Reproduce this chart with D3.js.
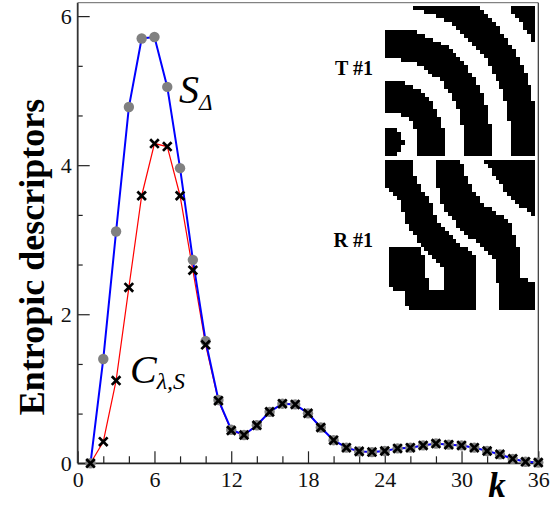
<!DOCTYPE html>
<html>
<head>
<meta charset="utf-8">
<script src="https://cdn.jsdelivr.net/npm/d3@7/dist/d3.min.js"></script>
<style>
  body { margin: 0; background: #fff; }
  svg { display: block; }
  text { font-family: "Liberation Serif", "Times New Roman", serif; }
</style>
</head>
<body>
<div id="chart"></div>
<script>
// k values and the two entropic descriptors
const kValues = [1, 2, 3, 4, 5, 6, 7, 8, 9, 10, 11, 12, 13, 14, 15, 16, 17, 18,
  19, 20, 21, 22, 23, 24, 25, 26, 27, 28, 29, 30, 31, 32, 33, 34, 35, 36];
const sDelta = [0, 1.40, 3.11, 4.78, 5.70, 5.72, 5.05, 3.96, 2.73, 1.64, 0.85, 0.45,
  0.38, 0.51, 0.69, 0.80, 0.79, 0.67, 0.48, 0.31, 0.21, 0.16, 0.15, 0.165,
  0.20, 0.21, 0.24, 0.265, 0.25, 0.24, 0.21, 0.165, 0.12, 0.06, 0.02, 0.01];
const cLambda = [0, 0.29, 1.11, 2.36, 3.59, 4.29, 4.25, 3.59, 2.59, 1.59, 0.84, 0.44,
  0.38, 0.51, 0.69, 0.80, 0.79, 0.67, 0.48, 0.31, 0.21, 0.16, 0.15, 0.165,
  0.20, 0.21, 0.24, 0.265, 0.25, 0.24, 0.21, 0.165, 0.12, 0.06, 0.02, 0.01];

const xMajor = [0, 6, 12, 18, 24, 30, 36];
const xMinor = [2, 4, 8, 10, 14, 16, 20, 22, 26, 28, 32, 34];
const yMajor = [0, 2, 4, 6];
const yMinor = [0.667, 1.333, 2.667, 3.333, 4.667, 5.333];

// inset patterns (image units 0..150)
// T #1: elliptic rings around a point near the lower-left corner
const tCenter = [4, 136];
const tStretch = 1.12;
const tBands = [[0, 14], [28, 55], [75, 102], [122, 149], [170, 197], [218, 245]];
// R #1: black blobs as polygons
const rShapes = [
  [[0, 0], [26, 0], [30, 18], [44, 40], [52, 62], [70, 80], [92, 98], [92, 150], [62, 150],
   [60, 112], [42, 92], [22, 66], [14, 40], [0, 28]],
  [[4, 88], [36, 88], [44, 130], [62, 130], [62, 150], [22, 150], [20, 132], [4, 126]],
  [[52, 0], [76, 0], [82, 20], [96, 42], [124, 62], [134, 90], [136, 118], [150, 124],
   [150, 150], [116, 150], [110, 102], [98, 88], [78, 72], [58, 46], [52, 24]],
  [[98, 0], [150, 0], [150, 58], [128, 38], [110, 18]]
];
const gridN = 38;

const width = 560, height = 505;
const svg = d3.select("#chart").append("svg")
  .attr("width", width)
  .attr("height", height);

const x = d3.scaleLinear().domain([0, 36]).range([77.7, 538.3]);
const y = d3.scaleLinear().domain([0, 6.18]).range([463.3, 2.7]);

// axes: ticks point inward
const gx = svg.append("g").attr("transform", `translate(0,${y(0)})`);
gx.call(d3.axisBottom(x).tickValues(xMajor).tickSize(-12).tickPadding(8).tickFormat(d3.format("d")));
gx.append("g").call(d3.axisBottom(x).tickValues(xMinor).tickSize(-7).tickFormat(""));

const gy = svg.append("g").attr("transform", `translate(${x(0)},0)`);
gy.call(d3.axisLeft(y).tickValues(yMajor).tickSize(-12).tickPadding(6).tickFormat(d3.format("d")));
gy.append("g").call(d3.axisLeft(y).tickValues(yMinor).tickSize(-5).tickFormat(""));

svg.selectAll(".domain").remove();
gx.attr("font-family", null).attr("font-size", null);
gy.attr("font-family", null).attr("font-size", null);
svg.selectAll(".tick line").attr("stroke", "#222").attr("stroke-width", 1.2);
svg.selectAll(".tick text")
  .attr("fill", "#111")
  .attr("font-family", "Liberation Serif")
  .attr("font-size", 22);

// frame
svg.append("line").attr("x1", x(0)).attr("x2", x(36)).attr("y1", y(0)).attr("y2", y(0))
  .attr("stroke", "#222").attr("stroke-width", 1.8);
svg.append("line").attr("x1", x(0)).attr("x2", x(0)).attr("y1", y(0)).attr("y2", y(6.18))
  .attr("stroke", "#333").attr("stroke-width", 1.8);
svg.append("line").attr("x1", x(0)).attr("x2", x(36)).attr("y1", y(6.18)).attr("y2", y(6.18))
  .attr("stroke", "#666").attr("stroke-width", 1);
svg.append("line").attr("x1", x(36)).attr("x2", x(36)).attr("y1", y(0)).attr("y2", y(6.18))
  .attr("stroke", "#333").attr("stroke-width", 1.2);

// inset images
function drawGrid(cells, x0, y0, size) {
  const c = size / gridN;
  svg.append("g").attr("shape-rendering", "crispEdges")
    .selectAll("rect").data(cells).enter().append("rect")
    .attr("x", d => x0 + d[0] * c)
    .attr("y", d => y0 + d[1] * c)
    .attr("width", c + 0.4)
    .attr("height", c + 0.4)
    .attr("fill", "#000");
}

const tCells = [];
for (let j = 0; j < gridN; j++) {
  for (let i = 0; i < gridN; i++) {
    const u = (i + 0.5) * 150 / gridN, v = (j + 0.5) * 150 / gridN;
    const r = Math.hypot(u - tCenter[0], (v - tCenter[1]) / tStretch);
    if (tBands.some(b => r >= b[0] && r < b[1])) tCells.push([i, j]);
  }
}

const cnv = document.createElement("canvas");
cnv.width = gridN; cnv.height = gridN;
const ctx = cnv.getContext("2d");
ctx.fillStyle = "#fff"; ctx.fillRect(0, 0, gridN, gridN);
ctx.scale(gridN / 150, gridN / 150);
ctx.fillStyle = "#000";
rShapes.forEach(poly => {
  ctx.beginPath();
  poly.forEach((p, i) => i ? ctx.lineTo(p[0], p[1]) : ctx.moveTo(p[0], p[1]));
  ctx.closePath();
  ctx.fill();
});
const px = ctx.getImageData(0, 0, gridN, gridN).data;
const rCells = [];
for (let j = 0; j < gridN; j++) {
  for (let i = 0; i < gridN; i++) {
    if (px[(j * gridN + i) * 4] < 128) rCells.push([i, j]);
  }
}

drawGrid(tCells, 385, 6, 150);
drawGrid(rCells, 385, 160, 150);

svg.append("text").attr("x", 373).attr("y", 75).attr("text-anchor", "end")
  .style("font-weight", "bold").style("font-size", "20px").text("T #1");
svg.append("text").attr("x", 373).attr("y", 247).attr("text-anchor", "end")
  .style("font-weight", "bold").style("font-size", "20px").text("R #1");

// series
const line = (vals) => d3.line().x((d, i) => x(kValues[i])).y(d => y(d))(vals);

svg.append("path").attr("d", line(cLambda))
  .attr("fill", "none").attr("stroke", "#ff0000").attr("stroke-width", 1.2);
svg.append("path").attr("d", line(sDelta))
  .attr("fill", "none").attr("stroke", "#0000ff").attr("stroke-width", 2);

svg.selectAll(".sdot").data(sDelta).enter().append("circle")
  .attr("class", "sdot")
  .attr("cx", (d, i) => x(kValues[i]))
  .attr("cy", d => y(d))
  .attr("r", 5.2)
  .attr("fill", "#808080");

svg.selectAll(".cx").data(cLambda).enter().append("path")
  .attr("class", "cx")
  .attr("transform", (d, i) => `translate(${x(kValues[i])},${y(d)})`)
  .attr("d", "M-4.3,-4.3L4.3,4.3M-4.3,4.3L4.3,-4.3")
  .attr("stroke", "#000")
  .attr("stroke-width", 2.7);

// labels
const sLab = svg.append("text").attr("x", 179).attr("y", 103)
  .style("font-style", "italic").style("font-size", "40px");
sLab.append("tspan").text("S");
sLab.append("tspan").attr("dy", 7).style("font-size", "23px").text("Δ");

const cLab = svg.append("text").attr("x", 130).attr("y", 383)
  .style("font-style", "italic").style("font-size", "40px");
cLab.append("tspan").text("C");
cLab.append("tspan").attr("dy", 6).style("font-size", "24px").text("λ,S");

svg.append("text")
  .attr("transform", "translate(44,257) rotate(-90)")
  .attr("text-anchor", "middle")
  .style("font-weight", "bold").style("font-size", "36px")
  .text("Entropic descriptors");

svg.append("text").attr("x", 497).attr("y", 497).attr("text-anchor", "middle")
  .style("font-weight", "bold").style("font-style", "italic").style("font-size", "35px")
  .text("k");
</script>
</body>
</html>
